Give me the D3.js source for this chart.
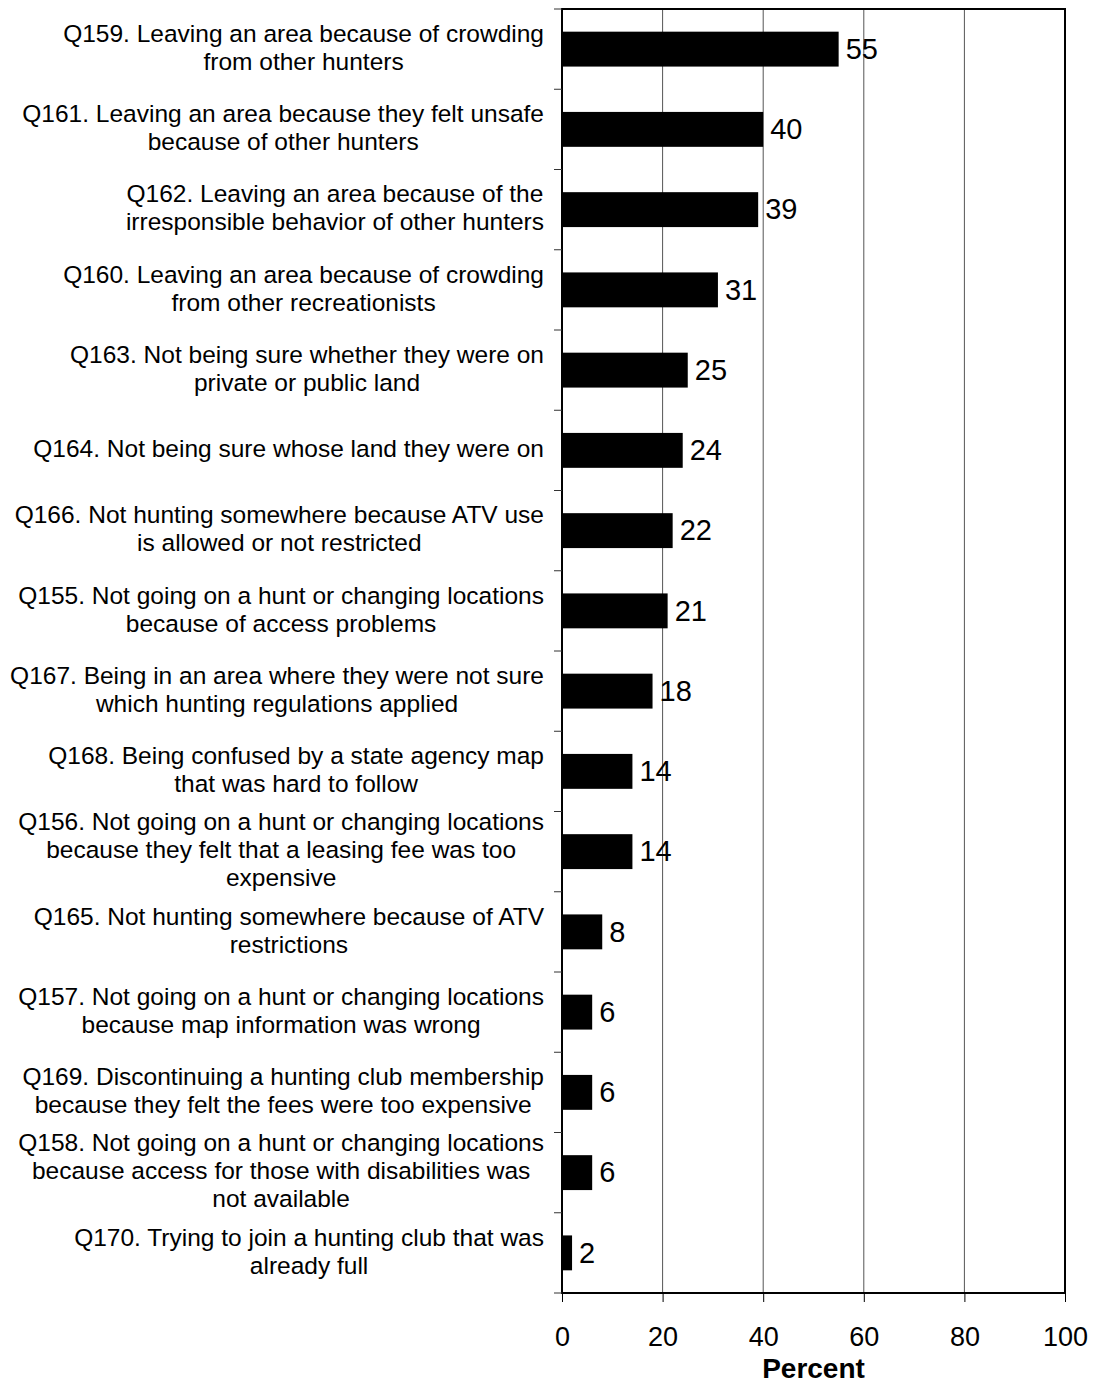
<!DOCTYPE html>
<html>
<head>
<meta charset="utf-8">
<script src="https://cdn.jsdelivr.net/npm/d3@7"></script>
<style>
  body { margin: 0; background: #fff; }
  text { font-family: "Liberation Sans", Arial, sans-serif; fill: #000; }
</style>
</head>
<body>
<div id="chart"></div>
<script>
// data, top to bottom
const categories = [
    ["Q159. Leaving an area because of crowding", "from other hunters"],
    ["Q161. Leaving an area because they felt unsafe", "because of other hunters"],
    ["Q162. Leaving an area because of the", "irresponsible behavior of other hunters"],
    ["Q160. Leaving an area because of crowding", "from other recreationists"],
    ["Q163. Not being sure whether they were on", "private or public land"],
    ["Q164. Not being sure whose land they were on"],
    ["Q166. Not hunting somewhere because ATV use", "is allowed or not restricted"],
    ["Q155. Not going on a hunt or changing locations", "because of access problems"],
    ["Q167. Being in an area where they were not sure", "which hunting regulations applied"],
    ["Q168. Being confused by a state agency map", "that was hard to follow"],
    ["Q156. Not going on a hunt or changing locations", "because they felt that a leasing fee was too", "expensive"],
    ["Q165. Not hunting somewhere because of ATV", "restrictions"],
    ["Q157. Not going on a hunt or changing locations", "because map information was wrong"],
    ["Q169. Discontinuing a hunting club membership", "because they felt the fees were too expensive"],
    ["Q158. Not going on a hunt or changing locations", "because access for those with disabilities was", "not available"],
    ["Q170. Trying to join a hunting club that was", "already full"]
];
const values = [55, 40, 39, 31, 25, 24, 22, 21, 18, 14, 14, 8, 6, 6, 6, 2];
const xTicks = [0, 20, 40, 60, 80, 100];

// constants
const width = 1096;
const height = 1385;
const plotLeft = 562;
const plotRight = 1065;
const plotTop = 9;
const plotBottom = 1293;
const labelRight = 544;

const svg = d3.select('#chart').append('svg')
    .attr('width', width).attr('height', height);

const x = d3.scaleLinear().domain([0, 100]).range([plotLeft, plotRight]);
const y = d3.scaleBand()
    .domain(d3.range(values.length))
    .range([plotTop, plotBottom])
    .paddingInner(0.565)
    .paddingOuter(0.2825);

// gridlines
svg.append('g')
    .selectAll('line')
    .data(xTicks.slice(1, -1))
    .join('line')
    .attr('x1', d => x(d)).attr('x2', d => x(d))
    .attr('y1', plotTop).attr('y2', plotBottom)
    .attr('stroke', '#555')
    .attr('stroke-width', 1);

// bars
svg.append('g')
    .selectAll('rect')
    .data(values)
    .join('rect')
    .attr('x', x(0))
    .attr('y', (d, i) => y(i))
    .attr('width', d => x(d) - x(0))
    .attr('height', y.bandwidth())
    .attr('fill', '#000');

// value labels
svg.append('g')
    .selectAll('text')
    .data(values)
    .join('text')
    .attr('x', d => x(d) + 7)
    .attr('y', (d, i) => y(i) + y.bandwidth() / 2)
    .attr('dy', '0.34em')
    .style('font-size', '29px')
    .text(d => d);

// plot frame
svg.append('rect')
    .attr('x', plotLeft).attr('y', plotTop)
    .attr('width', plotRight - plotLeft).attr('height', plotBottom - plotTop)
    .attr('fill', 'none')
    .attr('stroke', '#000')
    .attr('stroke-width', 2);

// left axis ticks on band boundaries
const yTickPos = d3.range(values.length + 1).map(i => plotTop + i * y.step());
svg.append('g')
    .selectAll('line')
    .data(yTickPos)
    .join('line')
    .attr('x1', plotLeft - 8).attr('x2', plotLeft)
    .attr('y1', d => d).attr('y2', d => d)
    .attr('stroke', '#333')
    .attr('stroke-width', 1);

// bottom axis
const xAxis = d3.axisBottom(x)
    .tickValues(xTicks)
    .tickSize(9)
    .tickPadding(25)
    .tickFormat(d => d);
const gx = svg.append('g')
    .attr('transform', `translate(0,${plotBottom})`)
    .call(xAxis);
gx.select('.domain').remove();
gx.selectAll('.tick line').attr('stroke', '#000').attr('stroke-width', 1);
gx.selectAll('.tick text')
    .style('font-family', '"Liberation Sans", Arial, sans-serif')
    .style('font-size', '27px')
    .attr('fill', '#000');

svg.append('text')
    .attr('x', (plotLeft + plotRight) / 2)
    .attr('y', 1378)
    .attr('text-anchor', 'middle')
    .style('font-size', '28px')
    .style('font-weight', 'bold')
    .text('Percent');

// category labels, lines centred on each other, block right aligned
const lineH = 28;
categories.forEach((lines, i) => {
    const g = svg.append('g');
    const cy = y(i) + y.bandwidth() / 2 - 2;
    const t = g.selectAll('text')
        .data(lines)
        .join('text')
        .attr('text-anchor', 'middle')
        .attr('y', (d, j) => cy + (j - (lines.length - 1) / 2) * lineH)
        .attr('dy', '0.36em')
        .style('font-size', '24.5px')
        .text(d => d);
    const maxW = d3.max(t.nodes(), n => n.getComputedTextLength());
    t.attr('x', labelRight - maxW / 2);
});
</script>
</body>
</html>
